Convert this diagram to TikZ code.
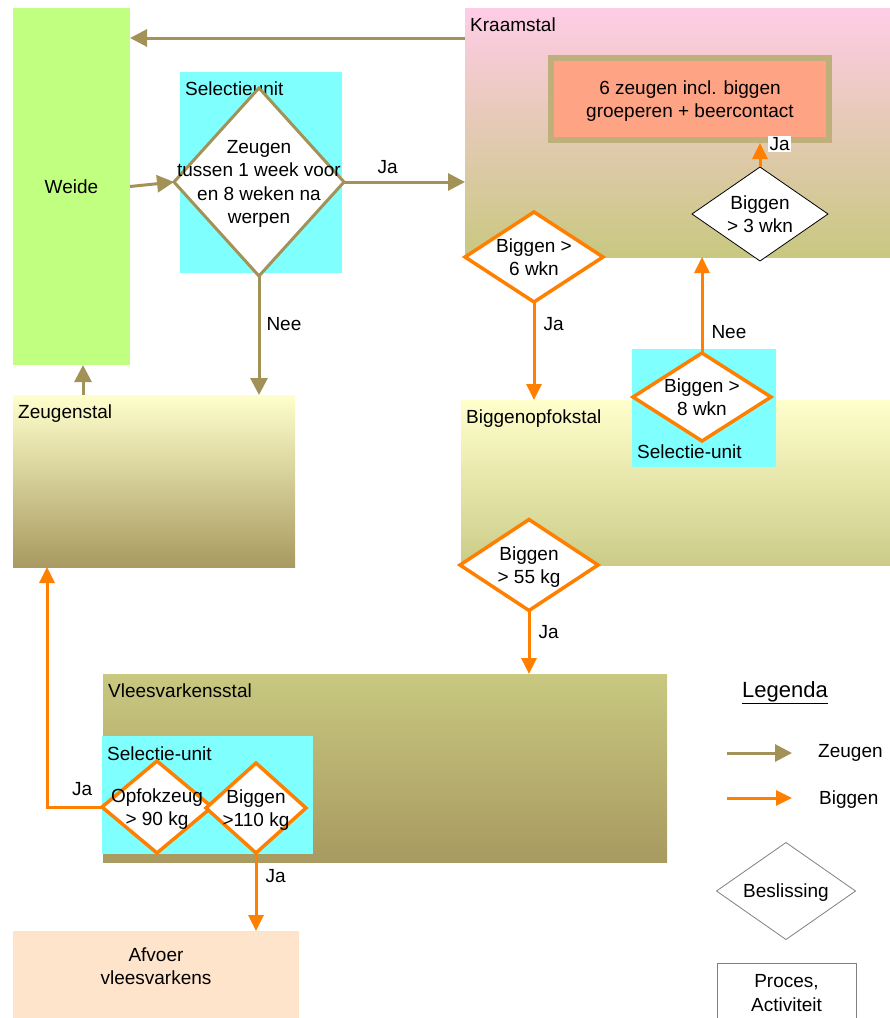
\documentclass[tikz,border=0pt]{standalone}
\usepackage{fontspec}
\setmainfont{Liberation Sans}
\usetikzlibrary{arrows.meta, positioning, calc, shapes.geometric}

\definecolor{zeugkleur}{HTML}{A39258}
\definecolor{bigkleur}{HTML}{FF8000}
\definecolor{selcyan}{HTML}{80FFFF}
\definecolor{weidegroen}{HTML}{C0FF80}
\definecolor{roze}{HTML}{FFCCE6}
\definecolor{olijf}{HTML}{C8C880}
\definecolor{geel}{HTML}{FFFFCC}
\definecolor{bruin}{HTML}{A89A60}
\definecolor{lichtolijf}{HTML}{CCCC88}
\definecolor{zalm}{HTML}{FFA385}
\definecolor{kader}{HTML}{BFAF7A}
\definecolor{afvoerkleur}{HTML}{FFE4CC}

\tikzset{
  area/.style={anchor=north west, inner sep=0pt, outer sep=0pt},
  areatext/.style={anchor=base west, inner sep=0pt},
  txt/.style={align=center, inner sep=0pt, text depth=0pt},
  lbl/.style={inner sep=0pt},
  beslis/.style={diamond, fill=white, inner sep=0pt, outer sep=0pt},
  zeugpijl/.style={draw=zeugkleur, line width=3pt, -{Triangle[length=17pt,width=17pt]}},
  bigpijl/.style={draw=bigkleur, line width=3pt, -{Triangle[length=16pt,width=15pt]}},
}

\begin{document}
\begin{tikzpicture}[x=1pt, y=-1pt, font=\fontsize{19}{23.5}\selectfont]
  \useasboundingbox (0,0) rectangle (890,1018);
  \clip (0,0) rectangle (890,1018);
  % Stallen
  \node[area, fill=weidegroen, minimum width=117pt, minimum height=357pt] (weide) at (13,8) {Weide};
  \node[area, top color=roze, bottom color=olijf, minimum width=425pt, minimum height=249pt] (kraam) at (465,8) {};
  \node[area, top color=geel, bottom color=bruin, minimum width=282pt, minimum height=172pt] (zeug) at (13,395) {};
  \node[area, top color=geel, bottom color=lichtolijf, minimum width=429pt, minimum height=165pt] (bopf) at (461,400) {};
  \node[area, top color=olijf, bottom color=bruin, minimum width=564pt, minimum height=188pt] (vlees) at (103,674) {};
  \node[area, fill=afvoerkleur, minimum width=286pt, minimum height=110pt] (afvoer) at (13,931) {};
  \node[areatext] (kraamlbl) at ($(kraam.north west)+(5,23)$) {Kraamstal};
  \node[areatext] (zeuglbl) at ($(zeug.north west)+(5,23)$) {Zeugenstal};
  \node[areatext] (bopflbl) at ($(bopf.north west)+(5,23)$) {Biggenopfokstal};
  \node[areatext] (vleeslbl) at ($(vlees.north west)+(5,23)$) {Vleesvarkensstal};
  \node[txt] (afvoertxt) at ($(afvoer.north)+(0,35)$) {Afvoer\\vleesvarkens};
  % Selectie-units
  \node[area, fill=selcyan, minimum width=162pt, minimum height=201pt] (sel1) at (180,72) {};
  \node[area, fill=selcyan, minimum width=144pt, minimum height=118pt] (sel2) at (632,349) {};
  \node[area, fill=selcyan, minimum width=211pt, minimum height=118pt] (sel3) at (102,736) {};
  \node[areatext] (sel1lbl) at ($(sel1.north west)+(5,23)$) {Selectieunit};
  \node[areatext] (sel2lbl) at ($(sel2.south west)+(5,-9)$) {Selectie-unit};
  \node[areatext] (sel3lbl) at ($(sel3.north west)+(5,24)$) {Selectie-unit};
  % Groeperen
  \node[draw=kader, line width=6pt, fill=zalm, minimum width=278pt, minimum height=82pt, txt]
    (groep) at (690,99) {6 zeugen incl. biggen\\groeperen + beercontact};
  % Beslissingen
  \node[beslis, draw=zeugkleur, line width=3pt, minimum width=170pt, minimum height=188pt,
    label={[txt]center:{Zeugen\\tussen 1 week voor\\en 8 weken na\\werpen}}] (d1) at (259,182) {};
  \node[beslis, draw=black, line width=0.8pt, minimum width=136pt, minimum height=94pt,
    label={[txt]center:{Biggen\\> 3 wkn}}] (d3) at (760,214) {};
  \node[beslis, draw=bigkleur, line width=3.5pt, minimum width=138pt, minimum height=90pt,
    label={[txt]center:{Biggen >\\6 wkn}}] (d6) at (534,257) {};
  \node[beslis, draw=bigkleur, line width=3.5pt, minimum width=138pt, minimum height=88pt,
    label={[txt]center:{Biggen >\\8 wkn}}] (d8) at (702,397) {};
  \node[beslis, draw=bigkleur, line width=3.5pt, minimum width=138pt, minimum height=91pt,
    label={[txt]center:{Biggen\\> 55 kg}}] (d55) at (529,565) {};
  \node[beslis, draw=bigkleur, line width=3.5pt, minimum width=110pt, minimum height=92pt,
    label={[txt]center:{Opfokzeug\\> 90 kg}}] (dopf) at (157,807) {};
  \node[beslis, draw=bigkleur, line width=3.5pt, minimum width=100pt, minimum height=90pt,
    label={[txt]center:{Biggen\\>110 kg}}] (d110) at (256,808) {};
  % Zeugen
  \draw[zeugpijl] ($(kraam.north west)+(0,30)$) -- ($(weide.north east)+(0,30)$);
  \draw[zeugpijl] (weide.east) -- (d1.west);
  \draw[zeugpijl] (d1.east) -- (kraam.west |- d1.east) node[lbl, pos=0.36, above=7pt] {Ja};
  \draw[zeugpijl] (d1.south) -- (d1.south |- zeug.north) node[lbl, pos=0.4, right=6pt] {Nee};
  \draw[zeugpijl] ($(zeug.north west)+(70,0)$) -- ($(weide.south west)+(70,0)$);
  % Biggen
  \draw[bigpijl] (d3.north) -- (d3.north |- groep.south);
  \node[lbl, anchor=north west, fill=white, inner sep=1.5pt] (ja3) at ($(d3.north |- groep.south)+(8,-7)$) {Ja};
  \draw[bigpijl] (d6.south) -- (d6.south |- bopf.north) node[lbl, pos=0.23, right=8pt] {Ja};
  \draw[bigpijl] (d8.north) -- (d8.north |- kraam.south) node[lbl, pos=0.22, right=8pt] {Nee};
  \draw[bigpijl] (d55.south) -- (d55.south |- vlees.north) node[lbl, pos=0.34, right=8pt] {Ja};
  \draw[bigpijl] (dopf.west) -| ($(zeug.south west)+(34,0)$) node[lbl, pos=0.18, above=10pt] {Ja};
  \draw[bigpijl] (d110.south) -- (d110.south |- afvoer.north) node[lbl, pos=0.3, right=8pt] {Ja};
  % Legenda
  \node[lbl] (legenda) at (785,693) {\fontsize{22}{26}\selectfont\underline{Legenda}};
  \coordinate (lz1) at (727,753);
  \coordinate (lz2) at (792,753);
  \coordinate (lb1) at (727,798);
  \coordinate (lb2) at (792,798);
  \draw[zeugpijl] (lz1) -- (lz2);
  \draw[bigpijl] (lb1) -- (lb2);
  \node[lbl, anchor=west] (lztxt) at (818,753) {Zeugen};
  \node[lbl, anchor=west] (lbtxt) at (819,800) {Biggen};
  \node[beslis, draw=gray, line width=0.8pt, minimum width=139pt, minimum height=97pt,
    label={[txt]center:Beslissing}] (lbeslis) at (786,891) {};
  \node[area, draw=gray, line width=0.8pt, minimum width=139pt, minimum height=90pt] (proces) at (717,963) {};
  \node[txt] (procestxt) at ($(proces.north)+(0,30)$) {Proces,\\Activiteit};
\end{tikzpicture}
\end{document}
